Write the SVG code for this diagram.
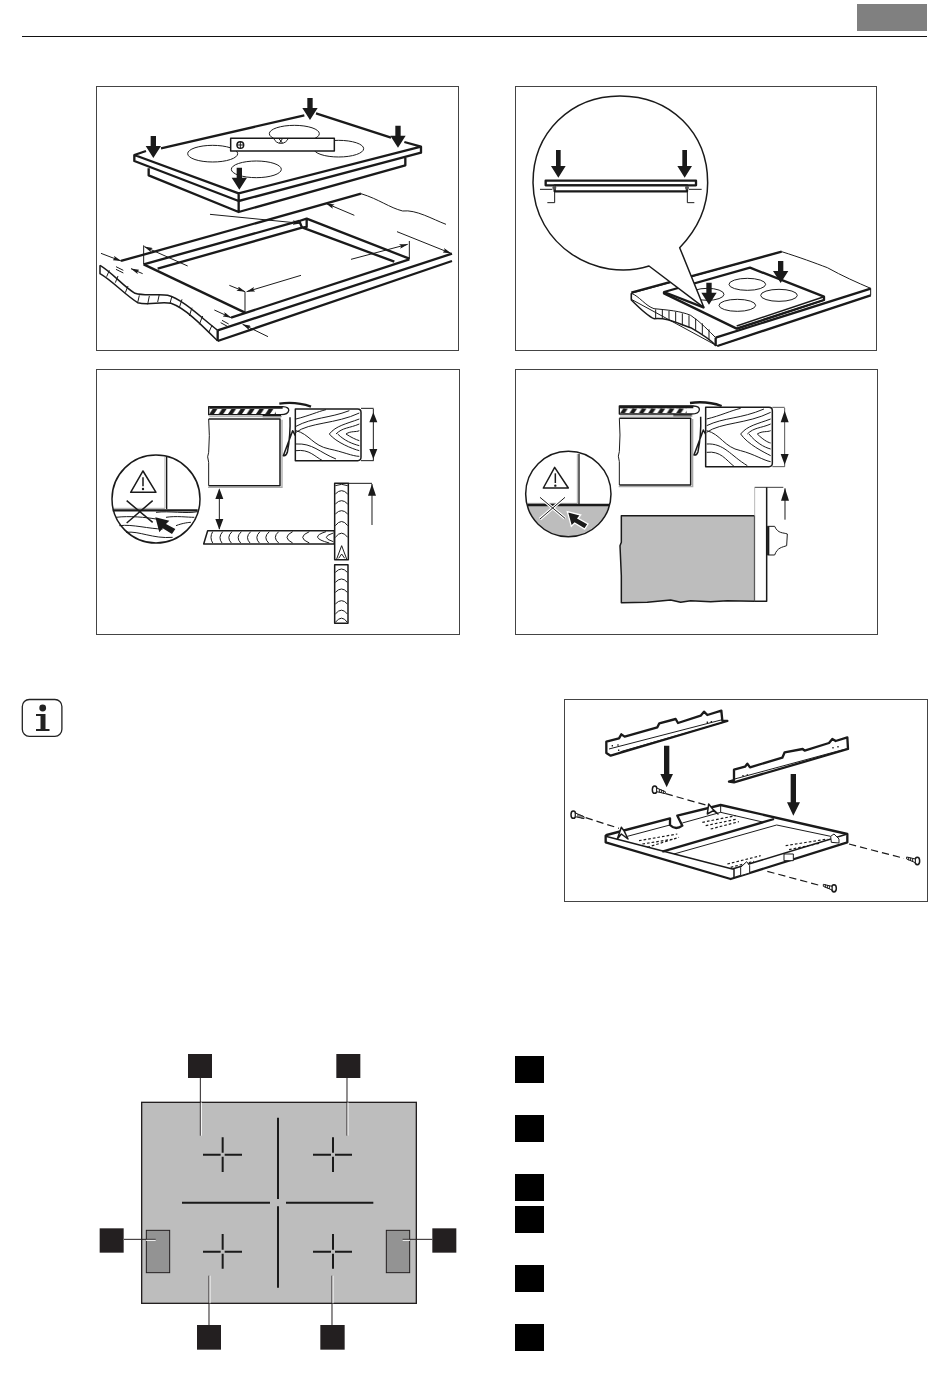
<svg xmlns="http://www.w3.org/2000/svg" width="950" height="1381" viewBox="0 0 950 1381">
<style>
.frame{fill:#fff;stroke:#444;stroke-width:1}
.k{fill:none;stroke:#1a1a1a;stroke-linejoin:round}
.t1{stroke-width:3}.t2{stroke-width:4.5}.t3{stroke-width:7}.t4{stroke-width:9}
.fw{fill:#fff}
.b{fill:#1a1a1a;stroke:none}
.dash{fill:none;stroke:#1a1a1a;stroke-width:3.5;stroke-dasharray:22 12}
.sq{fill:#231f20}
.gy{fill:#bdbdbd}
.wh{fill:none;stroke:#fff;stroke-width:3}
.x3{fill:none;stroke:#1a1a1a;stroke-width:6}
</style>
<defs>
<marker id="ah2" markerWidth="26" markerHeight="14" refX="25" refY="7" orient="auto-start-reverse" markerUnits="userSpaceOnUse" viewBox="0 0 26 14"><path d="M0 0L26 7L0 14L5 7Z" fill="#1a1a1a"/></marker>
<pattern id="stripes" x="340" y="120" width="28" height="15" patternUnits="userSpaceOnUse"><path d="M0 15L10 0H24L14 15Z" fill="#1a1a1a"/></pattern>
<g id="dnarrow"><path d="M-8 0H8V30H23L0 66L-23 30H-8Z"/></g>
<g id="dnarrow2"><path d="M-7 0H7V48H22L0 83L-22 48H-7Z"/></g>
<g id="section">
<path class="k" style="stroke-width:4" d="M338 113H560Q580 114 578 125Q576 137 555 137H338Z" fill="#fff"/>
<rect x="340" y="120" width="200" height="15" fill="url(#stripes)"/>
<path d="M340 116H560M500 141H555" class="k t3"/>
<path d="M550 104Q600 97 645 113" class="k t3"/>
<path d="M340 143H558" fill="none" stroke="#aaa" stroke-width="3"/>
<path d="M338 150H552V350H338" class="k t2"/>
<path d="M558 152V355H336" fill="none" stroke="#aaa" stroke-width="4"/>
<path d="M338 150Q342 200 338 250Q332 262 338 280V350" class="k t1"/>
<path d="M582 145Q584 200 574 250Q570 262 562 260L590 185L598 200" class="k t2"/>
</g>
<g id="screw"><ellipse cx="0" cy="0" rx="7" ry="11" class="fw k t2"/><path d="M6 -5L32 6V12L6 6Z" class="k t1 fw"/><path d="M14 -2V8M20 0V10M26 2V12" class="k t1"/></g>
</defs>
<rect width="950" height="1381" fill="#fff"/>

<g id="page-header">
<rect x="857" y="4" width="70" height="27" fill="#808080"/>
<path d="M22 36.5H927" stroke="#111" stroke-width="1.2"/>
</g>

<g id="panel-cutout">
<rect class="frame" x="96.5" y="86.5" width="362" height="264"/>
<g transform="translate(96 86) scale(.33333)">
<ellipse cx="350" cy="203" rx="75" ry="25" class="k t1"/>
<ellipse cx="595" cy="143" rx="75" ry="25" class="k t1"/>
<ellipse cx="728" cy="188" rx="75" ry="25" class="k t1"/>
<ellipse cx="481" cy="250" rx="75" ry="25" class="k t1"/>
<rect x="404" y="157" width="311" height="38" class="fw k t2"/>
<circle cx="433" cy="177" r="10" class="fw k t2"/><path d="M422 177H444M433 166V188" class="k t1"/>
<path d="M533 157Q540 172 555 172Q570 172 577 157M548 157L560 172M560 157L550 172" class="k t1"/>
<path d="M195 187L625 88M660 82L885 155M925 168L975 182V200L428 345V322L975 182M150 195L115 207V225L428 345V322L115 207" class="k t3"/>
<path d="M158 247V268L428 378L928 238V215M428 345V378" class="k t3"/>
<use href="#dnarrow" x="172" y="150" class="b"/>
<use href="#dnarrow" x="642" y="36" class="b"/>
<use href="#dnarrow" x="906" y="119" class="b"/>
<use href="#dnarrow" x="430" y="245" class="b"/>
<path d="M795 323C850 340 880 365 920 375C960 370 1010 400 1050 415" class="k t1"/>
<path d="M75 525L795 323" class="k t3"/>
<path d="M143 535L610 405M185 548L618 425" class="k t3"/>
<path d="M632 398L940 518M620 425L895 527M610 405L632 398V423L618 425Z" class="k t3"/>
<path d="M143 535L447 680" class="k t3"/>
<path d="M405 695L940 520" class="k t3"/>
<path d="M365 733L1068 503M365 765L1068 525" class="k t3"/>
<path d="M365 733V765" class="k t3"/>
<path d="M12 538C50 560 80 600 117 622C150 632 190 622 215 628C260 640 310 690 365 733" class="k t2"/>
<path d="M12 538V563C50 585 85 625 125 650C160 660 190 645 225 652C270 668 320 720 365 765" class="k t2"/>
<path d="M32 572L40 553M58 590L66 570M88 620L96 600M125 650L130 628M155 655L160 630M185 648L190 625M222 652L228 630M250 665L258 640M280 690L288 665M310 715L320 690M338 740L348 718" class="k t1"/>
<path d="M60 542L82 553M60 550L82 561M378 703L398 714M374 710L394 721" class="k t1"/>
<path d="M143 535V478M447 680V617M940 520V465" class="k t1"/>
<path d="M342 385L615 412" class="k t1" marker-end="url(#ah2)"/>
<path d="M775 388L690 352" class="k t1" marker-end="url(#ah2)"/>
<path d="M903 437L1065 502" class="k t1" marker-end="url(#ah2)"/>
<path d="M765 520L935 475" class="k t1" marker-end="url(#ah2)"/>
<path d="M275 540L145 482" class="k t1" marker-end="url(#ah2)"/>
<path d="M615 568L452 617" class="k t1" marker-end="url(#ah2)"/>
<path d="M400 598L447 617" class="k t1" marker-end="url(#ah2)"/>
<path d="M15 502L75 525" class="k t1" marker-end="url(#ah2)"/>
<path d="M140 563L105 548" class="k t1" marker-end="url(#ah2)"/>
<path d="M355 672L405 695" class="k t1" marker-end="url(#ah2)"/>
<path d="M516 752L440 715" class="k t1" marker-end="url(#ah2)"/>
</g>
</g>

<g id="panel-seal">
<rect class="frame" x="515.5" y="86.5" width="361" height="264"/>
<g transform="translate(514 86) scale(.33333)">
<path d="M352 622L803 497C860 515 900 530 940 545C985 570 1030 590 1070 607V628L610 780L352 640Z" class="fw k t1"/>
<path d="M352 620L803 497M1070 608L605 755M1070 628L610 780M605 755V780" class="k t3"/>
<path d="M352 622C375 630 395 660 420 668C460 672 500 675 530 688C560 708 585 735 605 755" class="k t1"/>
<path d="M352 622V642C375 665 400 690 420 698C460 694 490 712 530 725C560 742 590 762 607 780" class="k t2"/>
<path d="M425 670V697M445 672V698M465 674V702M485 678V708M505 682V718M525 688V724M545 698V732M565 712V745M585 730V762" class="k t1"/>
<path d="M450 618L708 545L930 632V642L668 728L450 622Z" class="fw k t3"/>
<path d="M668 720L930 632M668 728L930 642" class="k t2"/>
<ellipse cx="700" cy="595" rx="55" ry="18" class="k t1"/><ellipse cx="795" cy="628" rx="55" ry="18" class="k t1"/><ellipse cx="670" cy="658" rx="55" ry="18" class="k t1"/><ellipse cx="580" cy="625" rx="50" ry="18" class="k t1"/>
<path d="M405 540C250 590 60 480 57 290C57 140 170 30 318 30C470 30 581 140 581 290C581 370 550 430 497 485L570 665Z" fill="#fff" stroke="#1a1a1a" stroke-width="4.5" stroke-linejoin="round"/>
<path d="M450 618L570 665" class="k t3"/>
<use href="#dnarrow2" x="133" y="192" class="b"/>
<use href="#dnarrow2" x="512" y="192" class="b"/>
<rect x="95" y="284" width="451" height="14" class="fw k t3"/>
<rect x="122" y="298" width="397" height="18" class="fw k t3"/>
<circle cx="121" cy="305" r="6" fill="#555"/><circle cx="519" cy="305" r="6" fill="#555"/>
<path d="M78 310H115M525 310H563" class="k t1"/>
<path d="M122 316V350H100M520 316V350H541" class="k t1"/>
<use href="#dnarrow" x="800" y="525" class="b"/>
<use href="#dnarrow" x="585" y="590" class="b"/>
</g>
</g>

<g id="panel-hob-drawer">
<rect class="frame" x="96.5" y="369.5" width="363" height="265"/>
<g transform="translate(96 369) scale(.33333)">
<use href="#section"/>
<path d="M598 120H785Q795 120 795 130V265Q795 275 785 275H598Z" class="fw k t2"/>
<path d="M600 150C640 140 665 128 690 122M600 172C650 145 700 148 760 125M600 190C640 160 720 165 790 132M600 185C640 195 650 230 700 240C740 248 770 262 790 262M600 225C650 222 670 250 720 270M600 245C640 240 655 262 680 275M700 195C720 170 750 165 790 150M720 195C740 175 760 178 790 165M700 195C720 220 770 240 790 245M725 195C745 215 770 225 790 230M750 195C765 185 780 190 790 185M750 195C765 205 780 212 790 215" class="k t1"/>
<path d="M795 118H833M795 275H833M832 120V275" class="k t1"/>
<path d="M832 130L844 160H820ZM832 270L844 240H820Z" class="b"/>
<path d="M370 362L370 480" class="k t1"/>
<path d="M370 358L382 390H358ZM370 482L382 450H358Z" class="b"/>
<path d="M335 485H715V525H323Z" class="fw k t2"/>
<path d="M350 488Q340 505 350 522M380 488Q365 505 378 522M408 488Q390 505 406 522M436 488Q418 505 434 522M464 488Q446 505 462 522M492 488Q474 505 490 522M520 488Q500 505 518 522M548 488Q528 505 548 522M590 488Q556 505 590 522M640 488Q600 505 640 522M690 488Q635 505 700 522M712 492Q670 505 712 518" class="k t1"/>
<rect x="716" y="343" width="41" height="229" class="fw k t2"/>
<rect x="716" y="587" width="40" height="176" class="fw k t2"/>
<path d="M718 350Q737 342 755 350M718 375Q737 355 755 375M718 405Q737 385 755 405M718 435Q737 415 755 435M718 470Q737 445 755 470M718 505Q737 480 755 505M722 570L737 530L752 570M728 568L737 555L746 568" class="k t1"/>
<path d="M718 610Q737 590 754 610M718 640Q737 620 754 640M718 670Q737 650 754 670M718 705Q737 685 754 705M718 735Q737 712 754 735M718 760Q737 735 754 760" class="k t1"/>
<path d="M757 343H828M828 345V468" class="k t1"/>
<path d="M828 345L840 380H816Z" class="b"/>
<circle cx="180" cy="390" r="132" class="fw"/>
<path d="M60 445C100 440 150 445 180 450M70 470C110 465 160 480 200 480M90 490C130 485 170 510 230 505M180 430C220 425 270 435 305 428M210 445C240 440 275 445 295 445M240 470C260 462 280 460 285 460" class="k t1"/>
<path d="M212 262V420" fill="none" stroke="#1a1a1a" stroke-width="4"/>
<path d="M207 262V418H52" fill="none" stroke="#aaa" stroke-width="3"/>
<path d="M50 424H305" class="k t3"/>
<path d="M141 306L104 370H180Z" class="fw k t2"/>
<path d="M141 325V352" class="k t2"/><circle cx="141" cy="360" r="3.5" class="b"/>
<path d="M92 395L170 460M170 395L92 462" class="k t2"/>
<path d="M178 445L220 455L210 465L238 480L228 495L200 478L190 490Z" class="b"/>
<circle cx="180" cy="390" r="132" class="k t2"/>
</g>
</g>

<g id="panel-hob-oven">
<rect class="frame" x="515.5" y="369.5" width="362" height="265"/>
<g transform="translate(514 369) scale(.33333)">
<use href="#section" transform="translate(-22 -2)"/>
<path d="M575 115H765Q775 115 775 125V283Q775 293 765 293H575Z" class="fw k t2"/>
<path d="M578 150C620 140 650 125 680 118M578 170C630 145 680 150 750 120M578 190C620 160 700 165 770 130M578 185C620 195 630 235 680 245C720 255 750 275 770 278M578 225C630 222 650 260 700 290M578 250C620 245 635 272 660 292M680 195C700 170 730 165 770 150M700 195C720 175 740 178 770 165M680 195C700 225 750 250 770 260M705 195C725 220 750 235 770 240M730 195C745 185 760 190 770 185M730 195C745 210 760 220 770 222" class="k t1"/>
<path d="M775 115H812M775 293H812M812 117V293" fill="none" stroke="#333" stroke-width="2.5"/>
<path d="M812 125L824 160H800ZM812 287L824 255H800Z" class="b"/>
<path d="M322 440H722V697L640 695L590 698L530 695L500 700L470 693L400 700L322 701V620L318 530L322 520Z" class="gy" stroke="#1a1a1a" stroke-width="4.5" stroke-linejoin="round"/>
<rect x="722" y="355" width="36" height="342" class="fw" stroke="none"/>
<path d="M722 440V697" stroke="#555" stroke-width="2.5"/>
<path d="M722 355H808" stroke="#1a1a1a" stroke-width="2.5"/>
<path d="M722 355V440" stroke="#aaa" stroke-width="2.5"/>
<path d="M758 355V697H722" class="k t2"/>
<path d="M813 358V452" class="k t1"/>
<path d="M813 358L825 395H801Z" class="b"/>
<path d="M760 472H782C792 495 808 490 820 495L818 530C805 535 790 535 782 558H760Z" fill="#fff" stroke="#1a1a1a" stroke-width="3"/>
<rect x="760" y="472" width="6" height="86" class="b"/>
<circle cx="163" cy="375" r="128" class="fw"/>
<path d="M41 410H285C270 460 220 500 163 503C105 500 55 460 41 410Z" class="gy"/>
<path d="M195 255V410" stroke="#1a1a1a" stroke-width="4"/>
<path d="M190 255V403H42" fill="none" stroke="#aaa" stroke-width="3"/>
<path d="M40 408H287" class="k t3"/>
<path d="M122 295L88 357H163Z" class="fw k t2"/>
<path d="M124 313V342" class="k t2"/><circle cx="124" cy="350" r="3.5" class="b"/>
<path d="M78 385L153 448M153 385L78 450" stroke="#fff" stroke-width="9" fill="none"/>
<path d="M78 385L153 448M153 385L78 450" class="k t1"/>
<path d="M160 428L200 438L192 448L222 465L212 480L182 462L172 472Z" class="b" style="stroke:#fff;stroke-width:4"/>
<circle cx="163" cy="375" r="128" class="k t2"/>
</g>
</g>

<g id="info-icon">
<rect x="22.3" y="699.5" width="39.6" height="36.8" rx="7" fill="#fff" stroke="#222" stroke-width="1.3"/>
<circle cx="42.7" cy="708" r="3.4" fill="#222"/>
<path d="M36 714H45.5V729H49.5V731H36V729H40.5V716H36Z" fill="#222"/>
</g>

<g id="panel-brackets">
<rect class="frame" x="564.5" y="699.5" width="363" height="202"/>
<g transform="translate(564 699) scale(.33333)">
<path d="M127 128L165 118L172 106L182 113L280 85L286 73L335 60L342 72L410 50L420 38L430 48L472 35L475 65L490 66L140 170L127 162Z" class="fw k t3"/>
<path d="M135 150L475 62M170 158L478 70" class="k t1"/><path d="M143 140h4M160 138h4M162 154h4M428 70h4M440 68h4" class="k t2"/>
<path d="M510 212L543 203L550 194L558 205L655 176L662 160L716 150L722 155L795 132L805 120L815 126L850 115L852 150L510 250L495 248L510 243Z" class="fw k t3"/>
<path d="M512 240L852 148" class="k t1"/><path d="M535 230h4M548 228h4M805 146h4M820 143h4" class="k t2"/>
<path d="M300 140H316V225H327L308 265L289 225H300Z" class="b"/>
<path d="M680 225H696V310H708L688 350L669 310H680Z" class="b"/>
<path d="M305 284L425 318M65 356L165 388M855 435L1020 478M610 517L770 560" class="dash"/>
<use href="#screw" x="272" y="272"/>
<use href="#screw" x="28" y="347"/>
<use href="#screw" transform="translate(1060 486) rotate(180)"/>
<use href="#screw" transform="translate(810 568) rotate(180)"/>
<path d="M128 408L318 358V378Q335 395 355 380L340 350L470 318L850 405V430L500 540L125 430V410Z" class="fw k t3"/>
<path d="M125 412L505 510L850 405M510 510V538" class="k t2"/>
<path d="M295 458L630 360" class="k t3"/>
<path d="M330 465L638 378L800 412M190 412L318 378M355 372L470 340L600 370M470 318V340" class="k t1"/>
<path d="M225 425L340 405M235 435L330 420M250 445L345 415M415 370L515 350M425 380L520 360M440 390L525 368" fill="none" stroke="#1a1a1a" stroke-width="3.5" stroke-dasharray="8 6"/>
<path d="M665 440L790 420M675 452L770 432M490 495L590 470M500 505L570 487" fill="none" stroke="#1a1a1a" stroke-width="3.5" stroke-dasharray="8 6"/>
<path d="M160 420L172 385L180 395L192 420L172 405Z" class="fw k t2"/>
<path d="M430 345L434 315L446 330L462 345L448 335Z" class="fw k t2"/>
<path d="M800 412L810 405L825 420V432L802 430Z" class="fw k t1"/>
<path d="M530 505L548 488L557 500V522L530 530Z" class="fw k t1"/>
<rect x="660" y="465" width="28" height="20" class="fw k t1"/>
</g>
</g>

<g id="hob-diagram">
<g transform="translate(90 1045) scale(.33333)">
<rect x="155" y="172" width="824" height="603" class="gy" stroke="#231f20" stroke-width="4"/>
<rect x="169" y="556" width="70" height="127" fill="#939393" stroke="#231f20" stroke-width="3"/>
<rect x="889" y="556" width="70" height="127" fill="#939393" stroke="#231f20" stroke-width="3"/>
<path d="M564 218V462M564 484V728M276 473H540M588 473H850" class="x3"/>
<path d="M339 329H392M404 329H456M398 277V323M398 335V381M669 329H723M735 329H786M729 277V323M729 335V381M339 620H392M404 620H456M398 567V614M398 626V671M669 620H723M735 620H786M729 567V614M729 626V671" class="x3"/>
<g id="hob-leaders">
<path d="M331 99V272M771 99V272M102 583H197M1027 583H938M357 840V692M726 840V692" stroke="#231f20" stroke-width="3" fill="none"/>
<path d="M334 172V272M774 172V272M168 586H197M960 586H938M360 775V692M729 775V692" class="wh"/>
</g>
<rect id="n1" class="sq" x="294" y="27" width="72" height="72"/>
<rect id="n2" class="sq" x="739" y="27" width="72" height="72"/>
<rect id="n3" class="sq" x="29" y="550" width="72" height="73"/>
<rect id="n4" class="sq" x="1027" y="550" width="72" height="73"/>
<rect id="n5" class="sq" x="321" y="840" width="72" height="74"/>
<rect id="n6" class="sq" x="691" y="840" width="73" height="74"/>
</g>
</g>

<g id="legend">
<rect x="515" y="1056" width="29" height="27"/>
<rect x="515" y="1115" width="29" height="27"/>
<rect x="515" y="1174" width="29" height="27"/>
<rect x="515" y="1206" width="29" height="27"/>
<rect x="515" y="1265" width="29" height="27"/>
<rect x="515" y="1324" width="29" height="27"/>
</g>
</svg>
